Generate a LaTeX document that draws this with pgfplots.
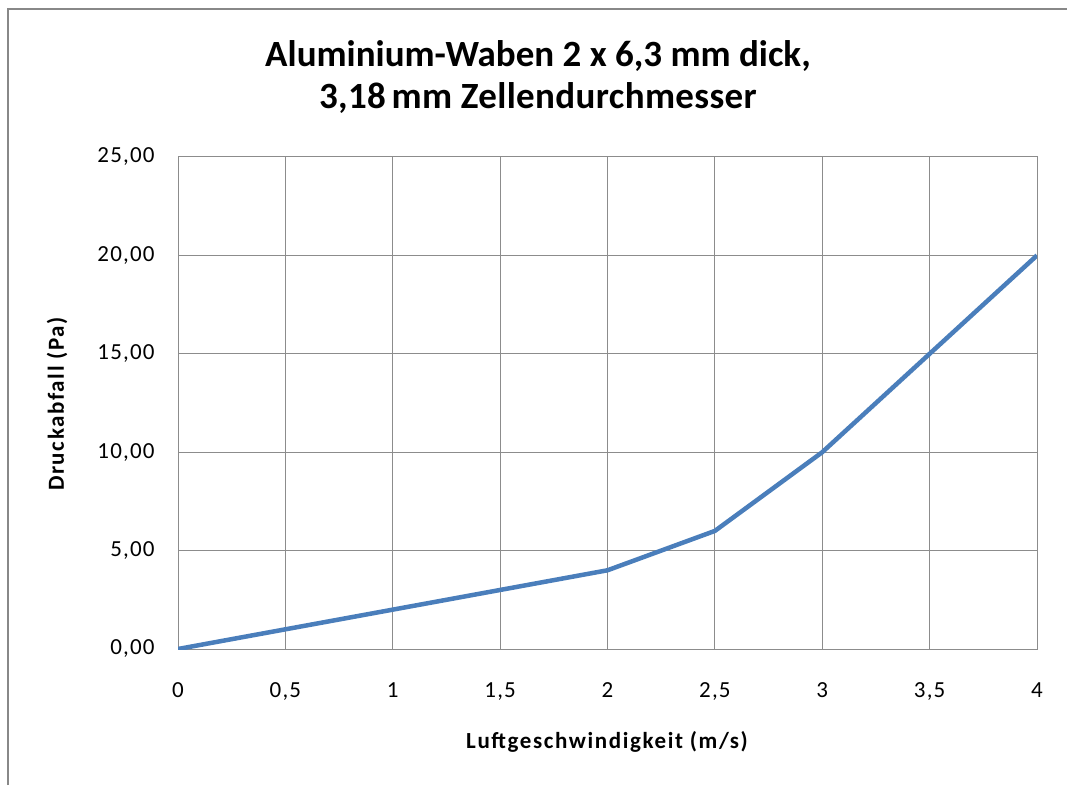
\documentclass[border=0pt]{standalone}
\usepackage{fontspec}
\setmainfont{Carlito}
\usepackage{pgfplots}
\pgfplotsset{compat=1.18}
\definecolor{gridgray}{HTML}{8C8C8C}
\definecolor{frame}{HTML}{888888}
\definecolor{line}{HTML}{4A7EBB}
\newcommand\tickfont{\fontsize{23}{27}\selectfont\addfontfeature{LetterSpace=5}}
\newcommand\labfont{\fontsize{23}{27}\selectfont\bfseries\addfontfeature{LetterSpace=7}}
\begin{document}
\begin{tikzpicture}[x=1pt,y=1pt]
\useasboundingbox (0,0) rectangle (1067,785);
\draw[color=frame, line width=2pt] (8,0) -- (8,776) -- (1067,776);
\node[font=\fontsize{37}{38}\selectfont\bfseries, anchor=base] at (538,718) {Aluminium-Waben 2 x 6,3 mm dick,};
\node[font=\fontsize{37}{38}\selectfont\bfseries\addfontfeature{LetterSpace=1}, anchor=base] at (538,676) {3,18\hspace{0.15em}mm Zellendurchmesser};
\node[font=\labfont, rotate=90] at (57,381) {Druckabfall (Pa)};
\node[font=\labfont] at (607,43) {Luftgeschwindigkeit (m/s)};
\begin{axis}[at={(178pt,136pt)}, anchor=south west, width=859pt, height=492pt, scale only axis,
  xmin=0, xmax=4, ymin=0, ymax=25,
  xtick={0,0.5,1,1.5,2,2.5,3,3.5,4}, ytick={0,5,10,15,20,25},
  grid=major, grid style={color=gridgray, line width=1pt},
  axis line style={color=gridgray, line width=1pt},
  major tick length=0pt,
  /pgf/number format/assume math mode=true,
  xticklabel style={font=\tickfont, yshift=-30pt},
  yticklabel style={font=\tickfont, xshift=-20pt},
  xticklabel={\pgfmathprintnumber[use comma]{\tick}},
  yticklabel={\pgfmathprintnumber[fixed, fixed zerofill, precision=2, use comma]{\tick}},
  scaled ticks=false,
]
\addplot[color=line, line width=4.5pt, line join=round] coordinates {
(0,0) (0.5,1) (1,2) (1.5,3) (2,4) (2.5,6) (3,10) (3.5,15) (4,20)
};
\end{axis}
\end{tikzpicture}
\end{document}
